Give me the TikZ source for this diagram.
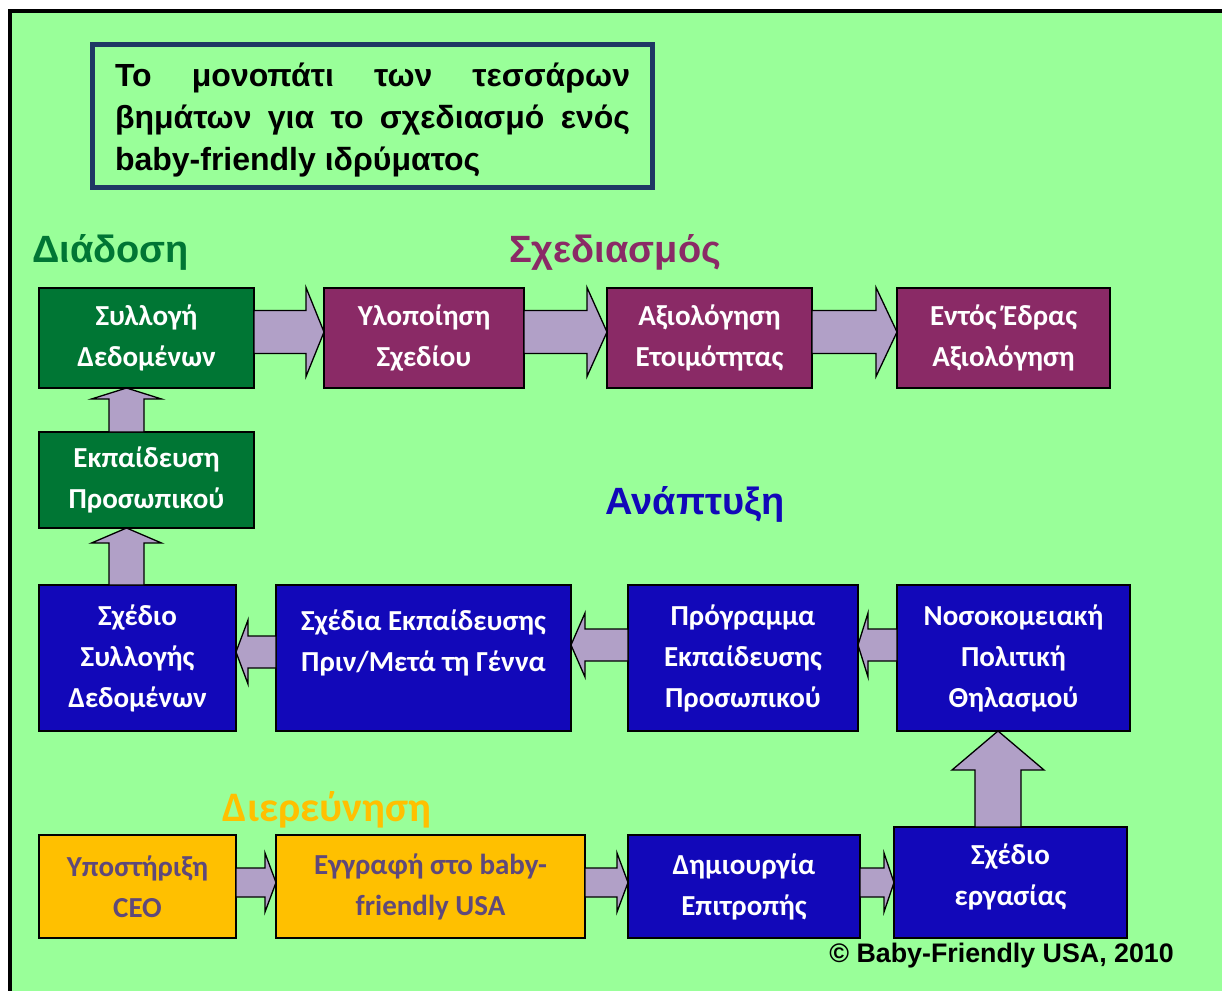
\documentclass[tikz,border=0pt]{standalone}
\usepackage{fontspec}
\setmainfont{Liberation Sans}
\newfontfamily\carlito{Carlito}
\usetikzlibrary{calc,positioning}

\definecolor{bggreen}{RGB}{153,255,153}
\definecolor{diagreen}{RGB}{0,118,52}
\definecolor{schpurple}{RGB}{138,42,102}
\definecolor{anablue}{RGB}{18,8,185}
\definecolor{dieryellow}{RGB}{255,192,0}
\definecolor{dierfont}{RGB}{95,73,122}
\definecolor{flowfill}{RGB}{177,160,199}
\definecolor{titleblue}{RGB}{31,56,100}

% fat block arrow: from, to, shaft half width, head half width, head length
\newcommand{\fatarrow}[5]{%
  \draw[flow] ($(#1)!#3!90:(#2)$) -- ($(#2)!#5!(#1)!#3!-90:(#1)$)
    -- ($(#2)!#5!(#1)!#4!-90:(#1)$) -- (#2)
    -- ($(#2)!#5!(#1)!#4!90:(#1)$) -- ($(#2)!#5!(#1)!#3!90:(#1)$)
    -- ($(#1)!#3!-90:(#2)$) -- cycle;}

\begin{document}
\begin{tikzpicture}[x=1pt, y=-1pt]
\tikzstyle{box}=[rectangle, draw=black, line width=1.6pt, inner sep=0pt, outer sep=0pt, align=center, text=white, font=\carlito\bfseries\fontsize{29}{41}\selectfont]
\tikzstyle{greenbox}=[box, fill=diagreen]
\tikzstyle{purplebox}=[box, fill=schpurple]
\tikzstyle{bluebox}=[box, fill=anablue]
\tikzstyle{yellowbox}=[box, fill=dieryellow, text=dierfont]
\tikzstyle{flow}=[draw=black, fill=flowfill, line width=1.3pt]
\tikzstyle{phase}=[font=\bfseries\fontsize{38}{44}\selectfont, inner sep=0pt]
\tikzstyle{titlebox}=[rectangle, draw=titleblue, line width=5pt, minimum width=560pt, minimum height=143pt, text width=515pt, align=justify, font=\bfseries\fontsize{32}{42}\selectfont]

  \fill[white] (0,0) rectangle (1222,990);
  \useasboundingbox (0,0) rectangle (1222,990);
  \draw[fill=bggreen, line width=3.5pt] (10,11) rectangle (1260,1030);

  \node[titlebox] (title) at (372.5,116) {\hyphenpenalty=10000 \rule{0pt}{32pt}Το μονοπάτι των τεσσάρων βημάτων για το σχεδιασμό ενός baby-friendly ιδρύματος};

  % phase headings
  \node[phase, text=diagreen, anchor=base west] (diadosi) at (32,262) {Διάδοση};
  \node[phase, text=schpurple, anchor=base] (sxediasmos) at (615,262) {Σχεδιασμός};
  \node[phase, text=anablue, anchor=base] (anaptyxi) at (695,514) {Ανάπτυξη};
  \node[font=\carlito\bfseries\fontsize{42}{48}\selectfont, text=dieryellow, inner sep=0pt, anchor=base] (diereunisi) at (327,821) {Διερεύνηση};

  % top row
  \node[greenbox, minimum width=215pt, minimum height=100pt] (syllogi) at (146.5,338) {Συλλογή\\Δεδομένων};
  \node[purplebox, minimum width=200pt, minimum height=100pt, right=70pt of syllogi] (ylopoiisi) {Υλοποίηση\\Σχεδίου};
  \node[purplebox, minimum width=205pt, minimum height=100pt, right=83pt of ylopoiisi] (axiologisi) {Αξιολόγηση\\Ετοιμότητας};
  \node[purplebox, minimum width=213pt, minimum height=100pt, right=85pt of axiologisi] (entos) {Εντός Έδρας\\Αξιολόγηση};

  \node[greenbox, minimum width=215pt, minimum height=96pt, below=44pt of syllogi] (ekpaideusi) {Εκπαίδευση\\Προσωπικού};

  % middle row
  \node[bluebox, minimum width=197pt, minimum height=146pt, below=57pt of ekpaideusi.south west, anchor=north west] (sxediosyllogis) {Σχέδιο\\Συλλογής\\Δεδομένων};
  \node[bluebox, minimum width=295pt, minimum height=146pt, right=40pt of sxediosyllogis] (sxedia) {Σχέδια Εκπαίδευσης\\Πριν/Μετά τη Γέννα\\[-6pt]\mbox{}};
  \node[bluebox, minimum width=230pt, minimum height=146pt, right=57pt of sxedia] (programma) {Πρόγραμμα\\Εκπαίδευσης\\Προσωπικού};
  \node[bluebox, minimum width=233pt, minimum height=146pt, right=39pt of programma] (nosokomeiaki) {Νοσοκομειακή\\Πολιτική\\Θηλασμού};

  % bottom row
  \node[yellowbox, minimum width=197pt, minimum height=103pt] (ypostirixi) at (137.5,886.5) {Υποστήριξη\\CEO};
  \node[yellowbox, minimum width=309pt, minimum height=103pt, right=40pt of ypostirixi] (eggrafi) {Εγγραφή στο baby-\\friendly USA};
  \node[bluebox, minimum width=232pt, minimum height=103pt, right=43pt of eggrafi] (dimiourgia) {Δημιουργία\\Επιτροπής};
  \node[bluebox, minimum width=233pt, minimum height=111pt, right=34pt of dimiourgia.south east, anchor=south west] (sxedioergasias) {Σχέδιο\\εργασίας\\[-26pt]\mbox{}};

  \node[font=\bfseries\fontsize{26.8}{30}\selectfont, inner sep=0pt, anchor=base east] (copyright) at (1174,962) {© Baby-Friendly USA, 2010};

  % arrows
  \fatarrow{[yshift=6pt]syllogi.east}{[yshift=6pt]ylopoiisi.west}{21.5pt}{44.5pt}{18pt}
  \fatarrow{[yshift=6pt]ylopoiisi.east}{[yshift=6pt]axiologisi.west}{21.5pt}{44.5pt}{20pt}
  \fatarrow{[yshift=6pt]axiologisi.east}{[yshift=6pt]entos.west}{21.5pt}{44.5pt}{21pt}

  \fatarrow{[xshift=-20pt]ekpaideusi.north}{[xshift=-20pt]syllogi.south}{17.5pt}{35pt}{11pt}
  \fatarrow{[xshift=-11pt]sxediosyllogis.north}{[xshift=-20pt]ekpaideusi.south}{17.5pt}{35pt}{15pt}

  \fatarrow{[yshift=6pt]sxedia.west}{[yshift=6pt]sxediosyllogis.east}{16pt}{32pt}{12pt}
  \fatarrow{[yshift=13pt]programma.west}{[yshift=13pt]sxedia.east}{16pt}{32pt}{14pt}
  \fatarrow{[yshift=13pt]nosokomeiaki.west}{[yshift=13pt]programma.east}{16pt}{32pt}{10pt}

  \fatarrow{[xshift=-12.5pt]sxedioergasias.north}{[xshift=-15.5pt]nosokomeiaki.south}{23pt}{46pt}{39pt}

  \fatarrow{[yshift=4pt]ypostirixi.east}{[yshift=4pt]eggrafi.west}{14.5pt}{29.5pt}{11pt}
  \fatarrow{[yshift=4pt]eggrafi.east}{[yshift=4pt]dimiourgia.west}{14.5pt}{29.5pt}{11pt}
  \fatarrow{[yshift=4pt]dimiourgia.east}{sxedioergasias.west}{14.5pt}{29.5pt}{10pt}

\end{tikzpicture}
\end{document}
